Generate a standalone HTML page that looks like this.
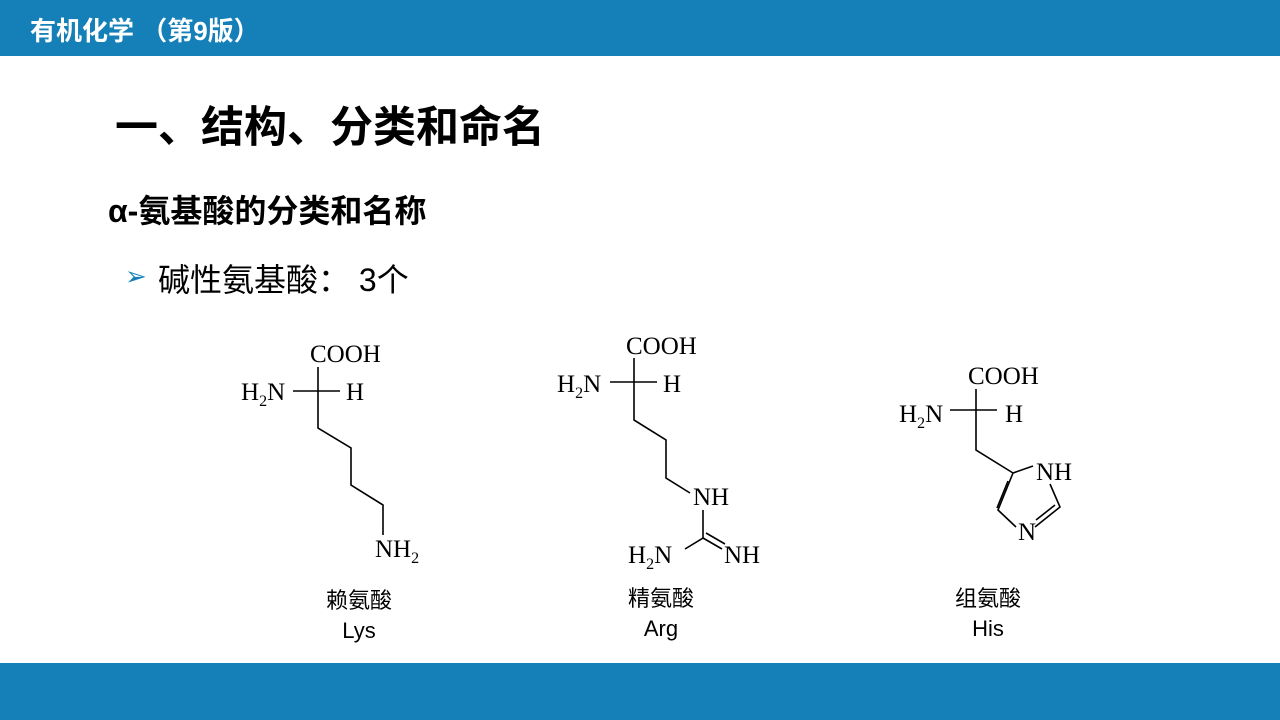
<!DOCTYPE html>
<html><head><meta charset="utf-8"><style>
body{margin:0;width:1280px;height:720px;position:relative;background:#fff;overflow:hidden;font-family:"Liberation Sans","Noto Sans CJK SC",sans-serif}
.bar{position:absolute;left:0;width:1280px;background:#1580b8}
.t{position:absolute;white-space:nowrap}
.lab{position:absolute;width:120px;text-align:center;font-size:22px;line-height:30px;color:#000}
</style></head><body>
<div class="bar" style="top:0;height:56px"></div>
<div class="bar" style="top:663px;height:57px"></div>
<div class="t" style="left:30px;top:11px;font-size:26px;font-weight:bold;color:#fff">有机化学 （第9版）</div>
<div class="t" style="left:115px;top:93px;font-size:43px;font-weight:bold">一、结构、分类和命名</div>
<div class="t" style="left:108px;top:186px;font-size:32px;font-weight:bold">α-氨基酸的分类和名称</div>
<div class="t" style="left:125px;top:261px;font-size:26px;color:#1580b8">➢</div>
<div class="t" style="left:158px;top:255px;font-size:32px">碱性氨基酸： 3个</div>
<svg width="1280" height="720" style="position:absolute;left:0;top:0" font-family="Liberation Serif,serif" font-size="25">
<g stroke="#000" stroke-width="1.6" fill="none">
<path d="M318 367V428L351 448V485L383 505V535M293 391H340"/>
<path d="M634 358V420L666 440V478L690 493M610 382H657M703 510V538L685 549M703 538L722 549M706 533L725 544"/>
<path d="M976 389V450L1013 473M950 410H997M1013 473L998 510L1016 527M1035 527L1060 507L1050 484M1033 466L1013 473M1008 481L997 508M1036 520L1055 505"/>
</g>
<text x="310" y="362">COOH</text><text x="241" y="400">H<tspan font-size="16" dy="6">2</tspan><tspan dy="-6">N</tspan></text><text x="346" y="400">H</text>
<text x="375" y="557">NH<tspan font-size="16" dy="6">2</tspan></text>
<text x="626" y="354">COOH</text><text x="557" y="392">H<tspan font-size="16" dy="6">2</tspan><tspan dy="-6">N</tspan></text><text x="663" y="392">H</text>
<text x="693" y="505">NH</text><text x="628" y="563">H<tspan font-size="16" dy="6">2</tspan><tspan dy="-6">N</tspan></text><text x="724" y="563">NH</text>
<text x="968" y="384">COOH</text><text x="899" y="422">H<tspan font-size="16" dy="6">2</tspan><tspan dy="-6">N</tspan></text><text x="1005" y="422">H</text>
<text x="1036" y="480">NH</text><text x="1018" y="540">N</text>
</svg>
<div class="lab" style="left:299px;top:586px">赖氨酸<br>Lys</div>
<div class="lab" style="left:601px;top:584px">精氨酸<br>Arg</div>
<div class="lab" style="left:928px;top:584px">组氨酸<br>His</div>
</body></html>
